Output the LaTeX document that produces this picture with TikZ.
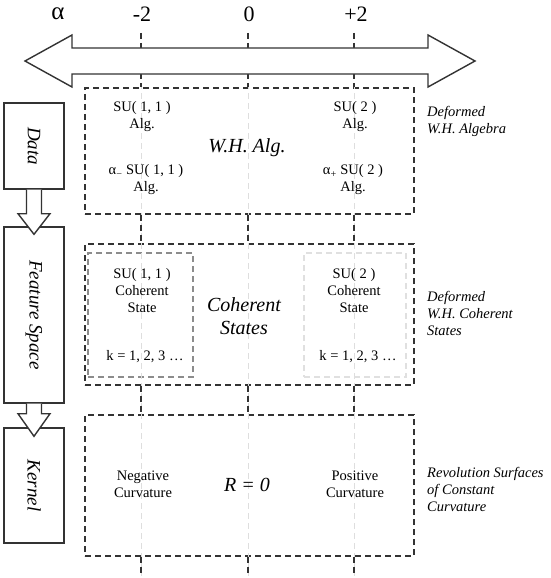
\documentclass[tikz,border=0pt]{standalone}
\usepackage{fontspec}
\setmainfont{Liberation Serif}
\usetikzlibrary{calc}

\begin{document}
\begin{tikzpicture}[x=1pt, y=-1pt,
    txt/.style={font=\fontsize{14.5}{17}\selectfont, align=center, inner sep=0pt},
    bigtxt/.style={font=\fontsize{20}{23}\selectfont\itshape, align=center, inner sep=0pt},
    note/.style={font=\fontsize{14.5}{17}\selectfont\itshape, align=left, anchor=west, inner sep=0pt},
    axlbl/.style={font=\fontsize{22}{24}\selectfont, inner sep=0pt},
    dbox/.style={draw=black!80, line width=1.2pt, dash pattern=on 6pt off 4pt, inner sep=0pt},
    flowbox/.style={draw=black!80, line width=1.4pt, fill=white, minimum width=60pt, inner sep=0pt},
    flowtxt/.style={font=\fontsize{19}{22}\selectfont\itshape, rotate=-90, inner sep=0pt},
    blockarr/.style={draw=black!80, line width=1.4pt, fill=white, line join=miter},
    gridlt/.style={draw=black!13, line width=1pt, dash pattern=on 6pt off 4pt},
    griddk/.style={draw=black!80, line width=1.2pt, dash pattern=on 6pt off 4pt},
  ]
    \useasboundingbox (0,0) rectangle (550,578) ;

    % dashed boxes
    \node[dbox, minimum width=329pt, minimum height=126pt] (walg) at (249.5,151) {} ;
    \node[dbox, minimum width=329pt, minimum height=141pt] (cstate) at (249.5,314.5) {} ;
    \node[dbox, minimum width=329pt, minimum height=141pt] (curv) at (249.5,485.5) {} ;
    \node[dbox, draw=black!45, minimum width=105pt, minimum height=124pt] (suoo) at (140.5,315) {} ;
    \node[dbox, draw=black!12, minimum width=102pt, minimum height=124pt] (sut) at (355,315) {} ;

    % alpha guide lines
    \foreach \x in {141, 248, 354} {
      \draw[gridlt] (\x,33) -- (\x,576) ;
      \draw[griddk] (\x,33) -- (\x,0 |- walg.north) ;
      \draw[griddk] (\x,0 |- walg.south) -- (\x,0 |- cstate.north) ;
      \draw[griddk] (\x,0 |- cstate.south) -- (\x,0 |- curv.north) ;
      \draw[griddk] (\x,0 |- curv.south) -- (\x,576) ;
    }

    % alpha axis
    \draw[blockarr] (25,61) -- (72,35) -- (72,48) -- (428,48) -- (428,35) -- (475,61)
      -- (428,87) -- (428,74) -- (72,74) -- (72,87) -- cycle ;
    \node[axlbl, font=\fontsize{25}{26}\selectfont] (alpha) at (58,14) {α} ;
    \node[axlbl] (mtwo) at (142,14) {-2} ;
    \node[axlbl] (zero) at (249,14) {0} ;
    \node[axlbl] (ptwo) at (356,14) {+2} ;

    % flow on the left
    \node[flowbox, minimum height=86pt] (data) at (34,146) {} ;
    \node[flowbox, minimum height=176pt] (feat) at (34,315) {} ;
    \node[flowbox, minimum height=115pt] (kern) at (34,485.5) {} ;
    \node[flowtxt] (datatxt) at (data) {Data} ;
    \node[flowtxt] (feattxt) at (feat) {Feature Space} ;
    \node[flowtxt] (kerntxt) at (kern) {Kernel} ;
    \draw[blockarr] ($(data.south)+(-7.5,0)$) -- ++(0,24) -- ++(-8.5,0) -- ($(feat.north)+(0,8)$)
      -- ($(data.south)+(16,24)$) -- ++(-8.5,0) -- ($(data.south)+(7.5,0)$) ;
    \draw[blockarr] ($(feat.south)+(-7.5,0)$) -- ++(0,10) -- ++(-8.5,0) -- ($(kern.north)+(0,9)$)
      -- ($(feat.south)+(16,10)$) -- ++(-8.5,0) -- ($(feat.south)+(7.5,0)$) ;

    % algebra row
    \node[txt] (suooalg) at (142,116.5) {SU( 1, 1 )\\Alg.} ;
    \node[txt] (amalg) at (146,180) {α\textsubscript{−} SU( 1, 1 )\\Alg.} ;
    \node[bigtxt] (whalg) at (247,148) {W.H. Alg.} ;
    \node[txt] (sutalg) at (355,116.5) {SU( 2 )\\Alg.} ;
    \node[txt] (apalg) at (353,180) {α\textsubscript{+} SU( 2 )\\Alg.} ;
    \node[note] (walgnote) at (427,121.5) {Deformed\\W.H. Algebra} ;

    % coherent state row
    \node[txt] (suoocs) at (142,290.5) {SU( 1, 1 )\\Coherent\\State} ;
    \node[txt] (suook) at (145,357) {k = 1, 2, 3 …} ;
    \node[bigtxt] (cstxt) at (244,316.5) {Coherent\\States} ;
    \node[txt] (sutcs) at (354,290.5) {SU( 2 )\\Coherent\\State} ;
    \node[txt] (sutk) at (358,357) {k = 1, 2, 3 …} ;
    \node[note] (csnote) at (427,313) {Deformed\\W.H. Coherent\\States} ;

    % curvature row
    \node[txt] (negc) at (143,484) {Negative\\Curvature} ;
    \node[bigtxt] (rzero) at (247,485) {R = 0} ;
    \node[txt] (posc) at (355,484) {Positive\\Curvature} ;
    \node[note] (curvnote) at (427,489) {Revolution Surfaces\\of Constant\\Curvature} ;
  \end{tikzpicture}
\end{document}
